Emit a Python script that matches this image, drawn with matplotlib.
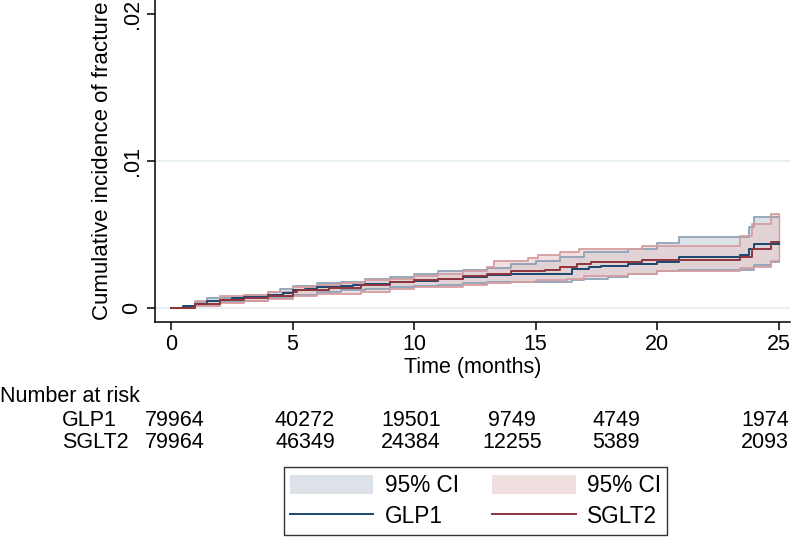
import numpy as np
import matplotlib
matplotlib.use("Agg")
import matplotlib.pyplot as plt
from matplotlib.patches import Patch
from matplotlib.lines import Line2D

plt.rcParams['font.family'] = ['Liberation Sans', 'DejaVu Sans']

# Kaplan-Meier style cumulative incidence (step functions)
glp1_t = [0, 0.5, 1, 1.5, 2, 2.5, 3, 4, 4.6, 5, 5.5, 6, 7, 7.5, 8, 9, 10, 11, 12, 13, 14,
          16.5, 17.2, 17.7, 18.8, 20, 20.9, 23.4, 23.8, 24.0, 25]
glp1_v = [0, 0.00012, 0.00025, 0.00045, 0.00055, 0.0007, 0.00075, 0.0009, 0.001, 0.0012,
          0.0013, 0.00143, 0.0015, 0.0016, 0.00165, 0.00174, 0.00186, 0.002, 0.0021, 0.00226,
          0.00233, 0.00265, 0.0028, 0.00283, 0.003, 0.0031, 0.00345, 0.0036, 0.004, 0.00435, 0.00435]

sglt2_t = [0, 1, 2, 3, 4, 5, 5.2, 6, 6.5, 7.8, 9, 10, 11, 12, 13, 14, 15.4, 16, 16.7, 17.3,
           19.4, 23.4, 23.9, 24.7, 25]
sglt2_v = [0, 0.0003, 0.00057, 0.0007, 0.00084, 0.00106, 0.0012, 0.00125, 0.00136, 0.00158,
           0.00174, 0.0019, 0.002, 0.00215, 0.00233, 0.0025, 0.0026, 0.0028, 0.003, 0.0031,
           0.0033, 0.0035, 0.004, 0.0045, 0.0045]

glp1_hi_t = [0, 1, 1.5, 3, 4, 4.5, 5, 6, 7, 8, 9, 10, 11, 12, 13, 14, 15, 16, 17, 18.8, 20,
             20.9, 23.8, 24.0, 25]
glp1_hi_v = [0, 0.0004, 0.0007, 0.0009, 0.0011, 0.0013, 0.0015, 0.0017, 0.0018, 0.002, 0.0021,
             0.0023, 0.0025, 0.0026, 0.0027, 0.003, 0.0032, 0.0035, 0.0038, 0.004, 0.0044,
             0.0048, 0.0055, 0.0062, 0.0062]
glp1_lo_t = [0, 1, 2, 3, 4, 5, 6, 7, 8, 9, 10, 11, 12, 13, 14, 16.5, 17, 18, 18.8, 20, 20.9,
             24.0, 24.7, 25]
glp1_lo_v = [0, 0.0002, 0.0004, 0.0005, 0.0007, 0.0009, 0.0011, 0.0012, 0.0013, 0.0014, 0.0015,
             0.0016, 0.0017, 0.00175, 0.0018, 0.0019, 0.002, 0.0021, 0.0023, 0.0025, 0.0026,
             0.0029, 0.0031, 0.0031]

sglt2_hi_t = [0, 1, 2, 3, 4, 5, 6, 7, 8, 9, 10, 11, 12, 13, 13.3, 14.7, 15.1, 16, 16.8, 19.4,
              23.4, 23.9, 24.7, 25]
sglt2_hi_v = [0, 0.0005, 0.0008, 0.0009, 0.0011, 0.0014, 0.0016, 0.0017, 0.0019, 0.002, 0.0022,
              0.0023, 0.0025, 0.0028, 0.0032, 0.0034, 0.0036, 0.0038, 0.004, 0.0042, 0.0049,
              0.0057, 0.0064, 0.0064]
sglt2_lo_t = [0, 1, 2, 3, 4, 5, 6, 7.8, 9, 10, 12, 13, 14, 15, 16.3, 17, 18.8, 20, 23.4, 24.0,
              24.7, 25]
sglt2_lo_v = [0, 0.00015, 0.00035, 0.00045, 0.0006, 0.0008, 0.00095, 0.0011, 0.0013, 0.0014,
              0.0016, 0.0017, 0.0018, 0.0019, 0.002, 0.0022, 0.0023, 0.0025, 0.0027, 0.0028,
              0.0032, 0.0032]

groups = ['GLP1', 'SGLT2']
risk_glp1 = [79964, 40272, 19501, 9749, 4749, 1974]
risk_sglt2 = [79964, 46349, 24384, 12255, 5389, 2093]

c_glp1 = '#1a476f'
c_sglt2 = '#90353b'
fill_glp1 = '#dde2e9'
fill_sglt2 = '#efdfdf'
edge_glp1 = '#8fa2b6'
edge_sglt2 = '#d59da0'
fs = 15.5


def step_eval(t, v, grid):
    idx = np.searchsorted(t, grid, side='right') - 1
    return np.asarray(v)[idx]


W, H = 800, 538
fig = plt.figure(figsize=(8, 5.38), dpi=100)
ax = fig.add_axes([155 / W, 1 - 322 / H, (790 - 155) / W, 322 / H])

grid1 = np.union1d(glp1_hi_t, glp1_lo_t)
ax.fill_between(grid1, step_eval(glp1_lo_t, glp1_lo_v, grid1), step_eval(glp1_hi_t, glp1_hi_v, grid1),
                step='post', color=fill_glp1, lw=0)
grid2 = np.union1d(sglt2_hi_t, sglt2_lo_t)
ax.fill_between(grid2, step_eval(sglt2_lo_t, sglt2_lo_v, grid2), step_eval(sglt2_hi_t, sglt2_hi_v, grid2),
                step='post', color='#e6c3c3', alpha=0.5, lw=0)

ax.step(glp1_hi_t, glp1_hi_v, where='post', color=edge_glp1, lw=1.3)
ax.step(glp1_lo_t, glp1_lo_v, where='post', color=edge_glp1, lw=1.3)
ax.step(sglt2_hi_t, sglt2_hi_v, where='post', color=edge_sglt2, lw=1.3)
ax.step(sglt2_lo_t, sglt2_lo_v, where='post', color=edge_sglt2, lw=1.3)
ax.plot([25, 25], [sglt2_lo_v[-1], sglt2_hi_v[-1]], color=edge_sglt2, lw=1.0)
ax.step(glp1_t, glp1_v, where='post', color=c_glp1, lw=1.4)
ax.step(sglt2_t, sglt2_v, where='post', color=c_sglt2, lw=1.4)

ax.set_xlim(-0.66, 25.47)
ax.set_ylim(-0.00095, 0.02095)
ax.set_xticks([0, 5, 10, 15, 20, 25])
ax.set_yticks([0, 0.01, 0.02])
ax.set_yticklabels(['0', '.01', '.02'], rotation=90, va='center')
ax.tick_params(labelsize=fs, length=6, width=1.1, colors='black', pad=3)
for y in [0, 0.01]:
    ax.axhline(y, color='#e4eef0', lw=1.2, zorder=0)
ax.spines['top'].set_visible(False)
ax.spines['right'].set_visible(False)
for s in ['left', 'bottom']:
    ax.spines[s].set_linewidth(1.1)
ax.set_xlabel('Time (months)', fontsize=fs, labelpad=1)
ax.set_ylabel('Cumulative incidence of fracture', fontsize=16, labelpad=6)

# number at risk table
fig.text(0, 1 - 397 / H, 'Number at risk', fontsize=fs, va='center', ha='left')
col_px = [175, 305, 411, 512, 616, 765]
for row, (name, vals) in enumerate(zip(groups, [risk_glp1, risk_sglt2])):
    yy = 1 - (421 + 22 * row) / H
    fig.text(62 / W, yy, name, fontsize=fs, va='center', ha='left')
    for xp, n in zip(col_px, vals):
        fig.text(xp / W, yy, str(n), fontsize=fs, va='center', ha='center')

handles = [Patch(facecolor=fill_glp1, edgecolor='none'),
           Line2D([], [], color=c_glp1, lw=1.4),
           Patch(facecolor=fill_sglt2, edgecolor='none'),
           Line2D([], [], color=c_sglt2, lw=1.4)]
labels = ['95% CI', 'GLP1', '95% CI', 'SGLT2']
leg = fig.legend(handles, labels, ncol=2, loc='center', bbox_to_anchor=(475.5 / W, 1 - 501 / H),
                 fontsize=16.3, frameon=True, fancybox=False, edgecolor='black',
                 handlelength=3.67, handleheight=0.93, handletextpad=0.49, columnspacing=1.5,
                 borderpad=0.3, labelspacing=0.36, borderaxespad=0)
leg.get_frame().set_linewidth(1.0)

fig.savefig('out.png', dpi=100)
